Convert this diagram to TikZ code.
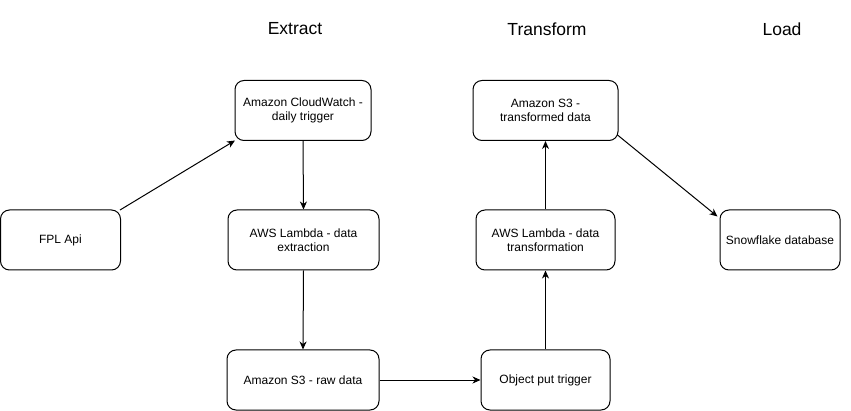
\documentclass[tikz,border=0pt]{standalone}
\usepackage{fontspec}
\setmainfont{Liberation Sans}
\usetikzlibrary{arrows.meta}
\begin{document}
\begin{tikzpicture}[x=1pt,y=-1pt,
  box/.style={draw=black, line width=1pt, rounded corners=9pt, fill=white,
    align=center, inner sep=0pt, minimum height=60pt,
    font=\fontsize{12pt}{14.5pt}\selectfont},
  title/.style={font=\fontsize{17.5pt}{20pt}\selectfont, inner sep=0pt},
  conn/.style={line width=1pt, -{Stealth[length=8pt,width=7pt,inset=2.5pt]}}]
\useasboundingbox (0,0) rectangle (851,411);
% titles
\node[title] (tex) at (295,29) {Extract};
\node[title] (ttr) at (547,29) {Transform};
\node[title] (tld) at (782,29) {Load};
% boxes
\node[box, minimum width=120pt] (fpl) at (60.5,240) {FPL Api};
\node[box, minimum width=136pt] (cw) at (303,110.5) {Amazon CloudWatch -\\daily trigger};
\node[box, minimum width=151pt] (lext) at (303.5,240) {AWS Lambda - data\\extraction};
\node[box, minimum width=152pt] (s3raw) at (303,380) {Amazon S3 - raw data};
\node[box, minimum width=129pt] (opt) at (545.5,380) {Object put trigger};
\node[box, minimum width=139pt] (ltr) at (545.5,240) {AWS Lambda - data\\transformation};
\node[box, minimum width=145pt] (s3t) at (545.5,110.5) {Amazon S3 -\\transformed data};
\node[box, minimum width=120pt] (snow) at (780,240) {Snowflake database};
% connectors
\draw[conn] ([shift={(-1,0.5)}]fpl.north east) -- ([shift={(0.5,-0.5)}]cw.south west);
\draw[conn] (cw.south) -- (lext.north);
\draw[conn] (lext.south) -- (s3raw.north);
\draw[conn] (s3raw.east) -- (opt.west);
\draw[conn] (opt.north) -- (ltr.south);
\draw[conn] (ltr.north) -- (s3t.south);
\draw[conn] ([shift={(-1,-6)}]s3t.south east) -- ([shift={(-2,7)}]snow.north west);
\end{tikzpicture}
\end{document}
